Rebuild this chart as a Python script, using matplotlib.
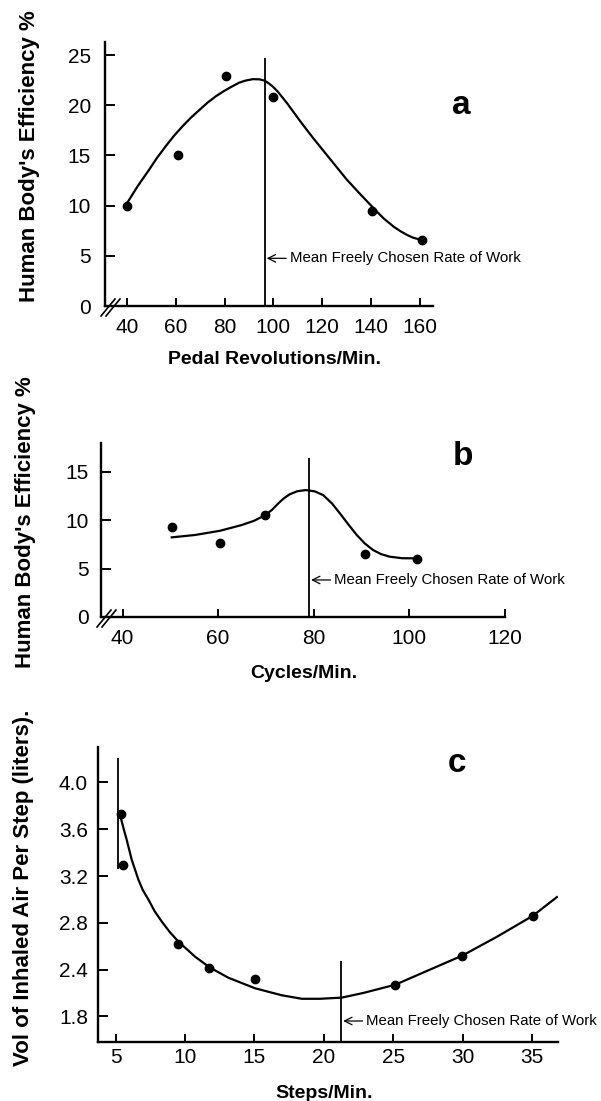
import matplotlib
matplotlib.use('Agg')
import matplotlib.pyplot as plt

plt.rcParams['font.family'] = ['Liberation Sans', 'DejaVu Sans']

# ---- panel a : pedalling ----
a_dot_x = [40, 61, 80.6, 99.8, 140.3, 160.6]
a_dot_y = [10.0, 15.05, 22.9, 20.8, 9.5, 6.6]
a_curve_x = [40.1, 44.5, 49.1, 52.5, 55.9, 59.3, 62.8, 66.2, 69.6, 73.0, 76.5, 80.0, 83.3,
             86.0, 88.5, 91.6, 94.3, 96.4, 98.0, 99.8, 101.8, 103.8, 105.9, 108.0, 110.7,
             113.5, 116.2, 119.0, 124.5, 130.0, 135.5, 141.0, 145.0, 149.2, 152.0, 154.5,
             157.0, 160.2]
a_curve_y = [10.24, 11.95, 13.56, 14.8, 15.9, 16.95, 17.9, 18.75, 19.5, 20.25, 20.9, 21.45, 21.9,
             22.25, 22.45, 22.6, 22.58, 22.45, 22.2, 21.85, 21.35, 20.75, 20.1, 19.4, 18.5,
             17.6, 16.75, 15.9, 14.25, 12.6, 11.15, 9.74, 8.75, 7.9, 7.45, 7.1,
             6.82, 6.6]
a_xticks = [40, 60, 80, 100, 120, 140, 160]
a_yticks = [0, 5, 10, 15, 20, 25]
a_mean = 96.4

# ---- panel b : cycles ----
b_dot_x = [50.3, 60.4, 69.9, 90.7, 101.5]
b_dot_y = [9.28, 7.62, 10.55, 6.5, 6.0]
b_curve_x = [50.3, 55.1, 60.4, 64.9, 67.5, 69.9, 71.3, 72.6, 73.8, 75.0, 76.5, 78.3, 80.2,
             82.0, 83.8, 85.5, 87.2, 89.0, 90.7, 92.4, 94.1, 95.9, 98.5, 101.5]
b_curve_y = [8.24, 8.48, 8.92, 9.51, 9.95, 10.55, 11.1, 11.76, 12.3, 12.7, 13.0, 13.13, 13.0,
             12.6, 11.75, 10.7, 9.6, 8.48, 7.6, 6.93, 6.5, 6.24, 6.08, 6.07]
b_xticks = [40, 60, 80, 100, 120]
b_yticks = [0, 5, 10, 15]
b_mean = 79.0

# ---- panel c : steps ----
c_dot_x = [5.38, 5.55, 9.51, 11.75, 15.04, 25.14, 29.99, 35.07]
c_dot_y = [3.73, 3.29, 2.62, 2.41, 2.32, 2.27, 2.52, 2.86]
c_curve_x = [5.38, 5.58, 5.79, 6.15, 6.63, 6.95, 7.35, 7.8, 8.32, 8.9, 9.51, 10.72, 11.75,
             13.12, 15.04, 16.97, 18.41, 19.73, 21.29, 22.85, 25.14, 27.66, 29.99, 32.47,
             35.07, 36.8]
c_curve_y = [3.69, 3.6, 3.51, 3.34, 3.17, 3.08, 3.0, 2.9, 2.81, 2.72, 2.64, 2.51, 2.42,
             2.33, 2.24, 2.18, 2.15, 2.15, 2.16, 2.20, 2.27, 2.40, 2.52, 2.68,
             2.86, 3.02]
c_xticks = [5, 10, 15, 20, 25, 30, 35]
c_yticks = [4.0, 3.6, 3.2, 2.8, 2.4, 2.0]
c_ylabels = ['4.0', '3.6', '3.2', '2.8', '2.4', '1.8']   # as printed in the original
c_mean = 21.24
c_low_x, c_low_y = 5.14, [3.26, 4.21]

note = 'Mean Freely Chosen Rate of Work'

W, H = 601, 1101
fig = plt.figure(figsize=(W / 100, H / 100), dpi=100)


def px_rect(left, right, top, bottom):
    return [left / W, 1 - bottom / H, (right - left) / W, (bottom - top) / H]


def style(ax, xpad, ypad):
    for s in ['top', 'right']:
        ax.spines[s].set_visible(False)
    for s in ['left', 'bottom']:
        ax.spines[s].set_linewidth(1.7)
    ax.tick_params(axis='both', direction='in', width=1.4, labelsize=15)
    ax.tick_params(axis='y', length=7, pad=ypad)
    ax.tick_params(axis='x', length=5.5, pad=xpad)
    ax.set_facecolor('none')


def axis_break(ax):
    w, h = ax.bbox.width, ax.bbox.height
    for dx in (0, 5):
        ax.plot([(-4 + dx) / w, (10 + dx) / w], [-10 / h, 7 / h], transform=ax.transAxes,
                color='black', lw=1.2, clip_on=False)


def mean_note(ax, x, y):
    ax.annotate(note, xy=(x, y), xytext=(18, 0), textcoords='offset points',
                ha='left', va='center', fontsize=10.8,
                arrowprops=dict(arrowstyle='->,head_length=0.5,head_width=0.25',
                                lw=0.9, color='black', shrinkA=0.5, shrinkB=1.5))


# panel a
ax = fig.add_axes(px_rect(105, 433, 42, 306))
ax.plot(a_curve_x, a_curve_y, color='black', lw=1.6)
ax.plot(a_dot_x, a_dot_y, 'o', color='black', ms=6)
ax.vlines(a_mean, 0, 24.7, color='black', lw=1.3)
mean_note(ax, a_mean, 4.75)
ax.set_xlim(31.1, 165.3)
ax.set_ylim(0, 26.3)
ax.set_xticks(a_xticks)
ax.set_yticks(a_yticks)
style(ax, 8.5, 10)
axis_break(ax)
ax.text(176.8, 19.1, 'a', fontsize=24, fontweight='bold', ha='center', va='baseline', clip_on=False)

# panel b
ax = fig.add_axes(px_rect(101, 505, 443, 617))
ax.plot(b_curve_x, b_curve_y, color='black', lw=1.6)
ax.plot(b_dot_x, b_dot_y, 'o', color='black', ms=6)
ax.vlines(b_mean, 0, 16.4, color='black', lw=1.3)
mean_note(ax, b_mean, 3.83)
ax.set_xlim(35.5, 120.0)
ax.set_ylim(0, 18.0)
ax.set_xticks(b_xticks)
ax.set_yticks(b_yticks)
style(ax, 8.5, 9)
axis_break(ax)
ax.text(111.2, 15.7, 'b', fontsize=24, fontweight='bold', ha='center', va='baseline', clip_on=False)

# panel c
ax = fig.add_axes(px_rect(97.7, 558.3, 746.7, 1041.7))
ax.plot(c_curve_x, c_curve_y, color='black', lw=1.6)
ax.plot(c_dot_x, c_dot_y, 'o', color='black', ms=6)
ax.vlines(c_mean, 1.783, 2.47, color='black', lw=1.3)
ax.vlines(c_low_x, c_low_y[0], c_low_y[1], color='black', lw=1.3)
mean_note(ax, c_mean, 1.96)
ax.set_xlim(3.70, 36.9)
ax.set_ylim(1.783, 4.306)
ax.set_xticks(c_xticks)
ax.set_yticks(c_yticks)
ax.set_yticklabels(c_ylabels)
style(ax, 4.5, 7)
ax.text(29.6, 4.09, 'c', fontsize=24, fontweight='bold', ha='center', va='baseline', clip_on=False)

# axis titles
ylab = dict(fontsize=16, fontweight='bold', rotation=90, ha='center', va='center')
xlab = dict(fontsize=14, fontweight='bold', ha='center', va='center')
fig.text(30 / W, 1 - 156 / H, "Human Body's Efficiency %", **ylab)
fig.text(26 / W, 1 - 522 / H, "Human Body's Efficiency %", **ylab)
fig.text(24 / W, 1 - 888 / H, 'Vol of Inhaled Air Per Step (liters).', **ylab)
fig.text(274 / W, 1 - 360 / H, 'Pedal Revolutions/Min.', **xlab)
fig.text(304 / W, 1 - 673 / H, 'Cycles/Min.', **xlab)
fig.text(324 / W, 1 - 1093 / H, 'Steps/Min.', **xlab)

fig.savefig('out.png', dpi=100)
